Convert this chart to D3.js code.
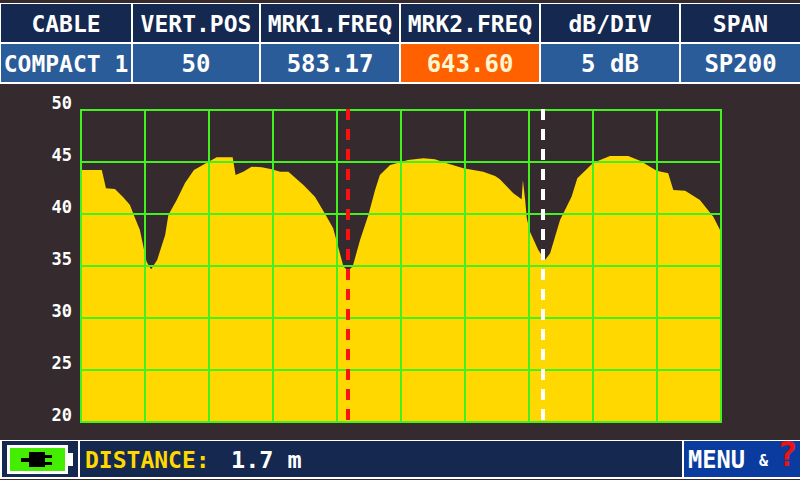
<!DOCTYPE html>
<html><head><meta charset="utf-8">
<script src="https://cdn.jsdelivr.net/npm/d3@7"></script>
<style>
html,body{margin:0;padding:0;background:#352a2e;overflow:hidden}
svg{display:block}
text{font-family:"DejaVu Sans Mono",monospace;font-weight:bold}
</style></head><body><svg id="c" width="800" height="480"></svg>
<script>
const headers=["CABLE","VERT.POS","MRK1.FREQ","MRK2.FREQ","dB/DIV","SPAN"];
const values=["COMPACT 1","50","583.17","643.60","5 dB","SP200"];
const cellEdges=[1,133,261,401,541,681,800];
const highlighted=3;
const dbTicks=[50,45,40,35,30,25,20];
const freqTicks=[500,520,540,560,580,600,620,640,660,680,700];
const freqs=[500,506.5,507.8,510.6,513.2,515.3,516.9,518.4,519.5,520.5,521.9,523.8,526.3,527.3,529.9,532.5,535.3,539.3,542.4,547.4,548.3,550.7,553.3,556.5,559.6,562.2,564.8,569.5,573.1,576.3,578.8,580.9,582,583.4,584.9,587.2,589.8,591.9,593.4,596.6,602.2,607,610.6,614.3,619.5,625.7,629.4,630.9,635.1,637.7,638.1,638.8,639.3,640.3,642.9,645,646.6,649.7,653.3,655.1,660.1,665.3,671,674.7,679.9,683.5,685.1,688.8,693.4,697.6,699.7,700];
const levels=[44.23,44.23,42.47,42.4,41.6,40.87,39.59,38.46,36.86,35.41,34.68,35.58,37.98,39.9,41.35,42.98,44.23,44.93,45.45,45.45,43.75,44.07,44.55,44.49,44.3,44.07,44.07,42.79,41.66,40,38.63,36.22,34.94,34.55,34.94,37.5,39.9,42.31,43.75,44.71,45.19,45.36,45.26,44.88,44.4,44.07,43.65,43.34,41.99,41.42,43.27,41.35,39.59,38.3,36.54,35.58,36.22,39.42,41.66,43.43,44.93,45.58,45.58,45.13,44.16,43.92,42.31,42.24,41.35,39.74,38.46,38.2];
const marker1=583.45, marker2=644.4;

const svg=d3.select("#c");
const x=d3.scaleLinear().domain([500,700]).range([81,721]);
const y=d3.scaleLinear().domain([20,50]).range([422,110]);

// header table
svg.append("rect").attr("x",0).attr("y",3).attr("width",800).attr("height",81).attr("fill","#fff");
headers.forEach((h,i)=>{
  const x0=cellEdges[i], x1=cellEdges[i+1]-(i<5?2:0), mid=(x0+x1)/2;
  svg.append("rect").attr("x",x0).attr("y",4).attr("width",x1-x0).attr("height",38).attr("fill","#142850");
  svg.append("rect").attr("x",x0).attr("y",44).attr("width",x1-x0).attr("height",38)
    .attr("fill",i===highlighted?"#ff6000":"#2a5c9a");
  svg.append("text").attr("x",mid).attr("y",32).attr("text-anchor","middle").attr("font-size",23).attr("fill","#fff").text(h);
  svg.append("text").attr("x",mid).attr("y",72).attr("text-anchor","middle").attr("font-size",values[i].length>8?23:24)
    .attr("fill",i===highlighted?"#fff6d0":"#fff").text(values[i]);
});

// trace
const area=d3.area().x((d,i)=>x(freqs[i])).y0(y(20)).y1(d=>y(d)).curve(d3.curveLinear);
svg.append("path").datum(levels).attr("d",area).attr("fill","#ffd800");

// grid
const grid=svg.append("g").attr("stroke","#44f020").attr("stroke-width",2).attr("shape-rendering","crispEdges");
grid.selectAll("line.v").data(freqTicks).join("line").attr("class","v")
  .attr("x1",d=>x(d)).attr("x2",d=>x(d)).attr("y1",y(50)-1).attr("y2",y(20)+1);
grid.selectAll("line.h").data(dbTicks).join("line").attr("class","h")
  .attr("x1",x(500)-1).attr("x2",x(700)+1).attr("y1",d=>y(d)).attr("y2",d=>y(d));

// y axis labels
const ax=svg.append("g").attr("transform","translate(72,-7)")
  .call(d3.axisLeft(y).tickValues(dbTicks).tickSize(0).tickPadding(0));
ax.select(".domain").remove();
ax.selectAll("text").attr("fill","#fff").attr("font-size",17).attr("font-family",'"DejaVu Sans Mono",monospace').attr("font-weight","bold");

// markers
[[marker1,"#ff1010"],[marker2,"#ffffff"]].forEach(([m,c])=>{
  svg.append("line").attr("x1",x(m)).attr("x2",x(m)).attr("y1",109).attr("y2",422)
    .attr("stroke",c).attr("stroke-width",4).attr("stroke-dasharray","11 9").attr("shape-rendering","crispEdges");
});

// footer
svg.append("rect").attr("x",0).attr("y",440).attr("width",800).attr("height",39).attr("fill","#fff");
svg.append("rect").attr("x",2).attr("y",441).attr("width",76).attr("height",36).attr("fill","#142850");
svg.append("rect").attr("x",80).attr("y",441).attr("width",602).attr("height",36).attr("fill","#142850");
svg.append("rect").attr("x",684).attr("y",441).attr("width",116).attr("height",36).attr("fill","#0a3ca0");
// battery
svg.append("rect").attr("x",8.5).attr("y",446.5).attr("width",58).attr("height",26).attr("fill","#44ee00").attr("stroke","#fff").attr("stroke-width",3);
svg.append("rect").attr("x",68).attr("y",453).attr("width",5).attr("height",13).attr("fill","#fff");
const plug=svg.append("g").attr("fill","#000");
plug.append("rect").attr("x",21).attr("y",458).attr("width",10).attr("height",4);
plug.append("rect").attr("x",29).attr("y",452).attr("width",16).attr("height",15);
plug.append("rect").attr("x",45).attr("y",455).attr("width",7).attr("height",3);
plug.append("rect").attr("x",45).attr("y",462).attr("width",7).attr("height",3);

svg.append("text").attr("x",85).attr("y",468).attr("font-size",23).attr("fill","#ffd800").text("DISTANCE:");
svg.append("text").attr("x",231).attr("y",468).attr("font-size",23.5).attr("fill","#fff").text("1.7 m");
svg.append("text").attr("x",688).attr("y",468).attr("font-size",24).attr("fill","#fff").attr("textLength",57).attr("lengthAdjust","spacingAndGlyphs").text("MENU");
svg.append("text").attr("x",759).attr("y",466).attr("font-size",15).attr("fill","#fff").text("&");
svg.append("text").attr("x",777).attr("y",466).attr("font-size",34).attr("fill","#ee1111").text("?");
</script></body></html>
